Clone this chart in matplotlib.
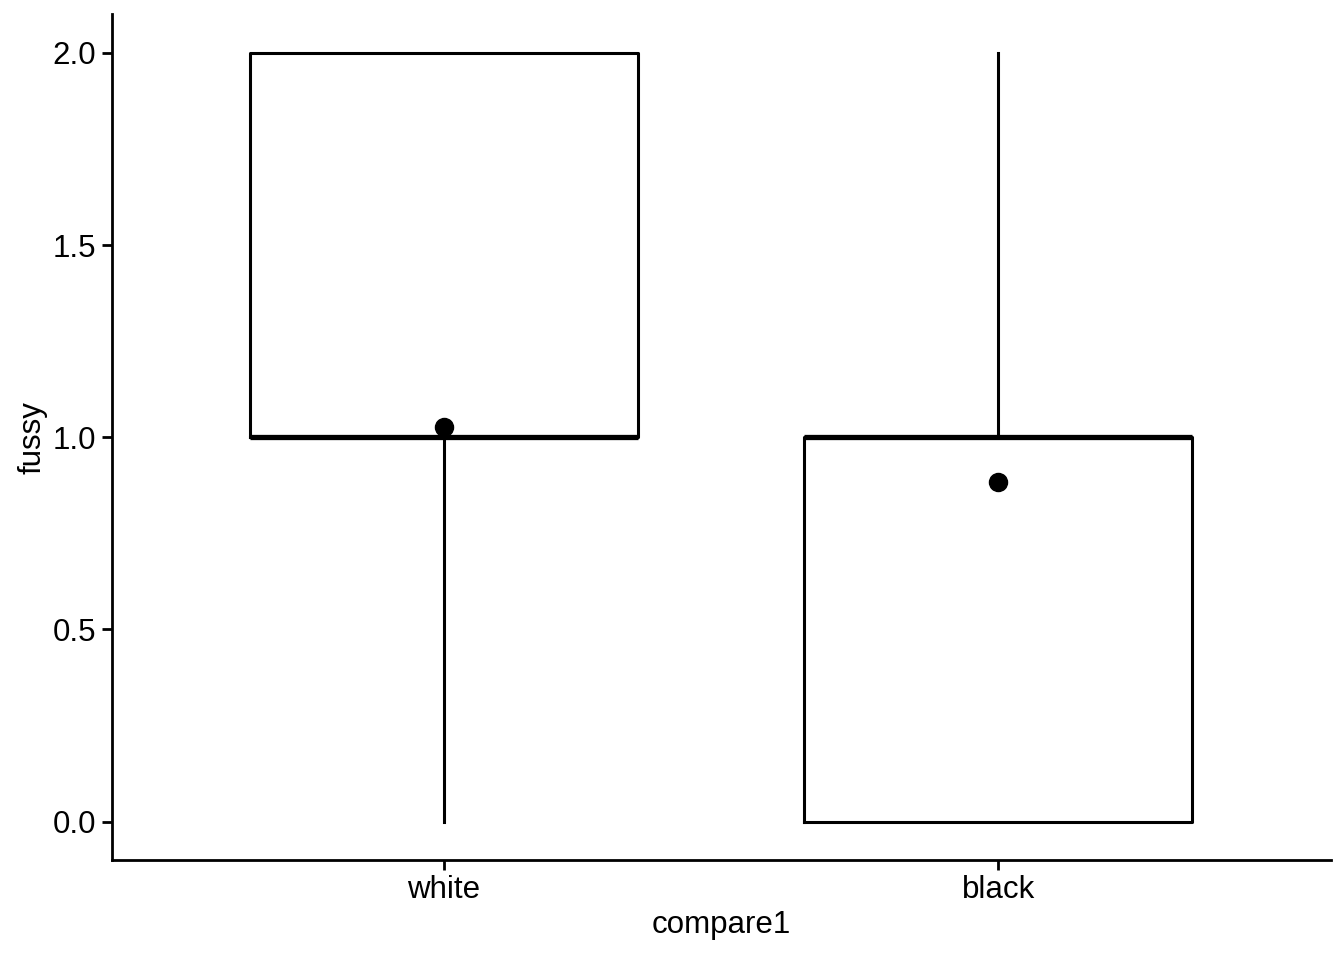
import matplotlib
matplotlib.use("Agg")
import matplotlib.pyplot as plt

plt.rcParams['font.family'] = ['Liberation Sans', 'DejaVu Sans']

# box stats
groups = ["white", "black"]
q1 = [1.0, 0.0]
med = [1.0, 1.0]
q3 = [2.0, 1.0]
whislo = [0.0, 0.0]
whishi = [2.0, 2.0]
means = [1.026, 0.883]

stats = []
for i in range(len(groups)):
    stats.append({"label": groups[i], "q1": q1[i], "med": med[i], "q3": q3[i],
                  "whislo": whislo[i], "whishi": whishi[i], "fliers": []})

fig, ax = plt.subplots(figsize=(13.44, 9.6), dpi=100)
fig.subplots_adjust(left=0.083, right=0.99, top=0.985, bottom=0.104)

pos = list(range(1, len(groups) + 1))
ax.bxp(stats, positions=pos, widths=0.7, showcaps=False, patch_artist=False,
       boxprops=dict(color="black", linewidth=2.2),
       whiskerprops=dict(color="black", linewidth=2.2),
       medianprops=dict(color="black", linewidth=3.8, solid_capstyle="butt"))
ax.plot(pos, means, "o", color="black", markersize=13, zorder=5)

ax.set_xlim(0.4, 2.6)
ax.set_ylim(-0.1, 2.1)
ax.set_yticks([0.0, 0.5, 1.0, 1.5, 2.0])
ax.set_yticklabels(["0.0", "0.5", "1.0", "1.5", "2.0"])
ax.set_xticks(pos)
ax.set_xticklabels(groups)
ax.set_xlabel("compare1", fontsize=22.5, labelpad=3)
ax.set_ylabel("fussy", fontsize=22.5, labelpad=4)
ax.tick_params(labelsize=22.5, colors="black", width=2, length=7, pad=4)
for s in ["top", "right"]:
    ax.spines[s].set_visible(False)
for s in ["left", "bottom"]:
    ax.spines[s].set_linewidth(2)

fig.savefig("out.png", dpi=100)
